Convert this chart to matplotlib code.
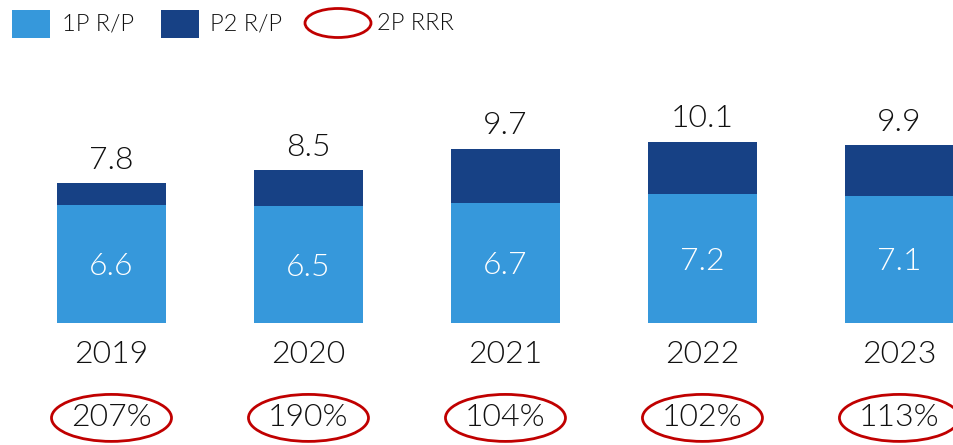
import matplotlib
matplotlib.use("Agg")
import matplotlib.pyplot as plt
from matplotlib.patches import Rectangle, Ellipse

years = ["2019", "2020", "2021", "2022", "2023"]
rp_1p = [6.6, 6.5, 6.7, 7.2, 7.1]
rp_total = [7.8, 8.5, 9.7, 10.1, 9.9]
rp_p2 = [1.2, 2.0, 3.0, 2.9, 2.8]
rrr_2p = ["207%", "190%", "104%", "102%", "113%"]

LIGHT = "#3698DB"
DARK = "#174185"
RED = "#C00000"
FONT = "Lato"
WT = 300
TXT = "#111111"

W, H = 954, 445
fig = plt.figure(figsize=(W / 100, H / 100), dpi=100)
ax = fig.add_axes([0, 0, 1, 1])
ax.set_xlim(-0.566, 4.277)
ax.set_ylim(-6.80, 18.0)
ax.axis("off")

x = list(range(len(years)))
bw = 0.553
ax.bar(x, rp_1p, width=bw, color=LIGHT, edgecolor="none")
ax.bar(x, rp_p2, width=bw, bottom=rp_1p, color=DARK, edgecolor="none")

FS = 23
for i in x:
    ax.text(i, rp_total[i] + 1.28, f"{rp_total[i]:.1f}", ha="center", va="center",
            fontsize=FS, color=TXT, family=FONT, fontweight=WT)
    ax.text(i, rp_1p[i] / 2 - 0.15, f"{rp_1p[i]:.1f}", ha="center", va="center",
            fontsize=FS, color="white", family=FONT, fontweight=WT)
    ax.text(i, -1.78, years[i], ha="center", va="center",
            fontsize=FS, color=TXT, family=FONT, fontweight=WT)
    ax.add_patch(Ellipse((i, -5.29), width=120 / 197, height=47 / 17.95,
                         facecolor="none", edgecolor=RED, lw=2, clip_on=False))
    ax.text(i, -5.29, rrr_2p[i], ha="center", va="center",
            fontsize=FS, color=TXT, family=FONT, fontweight=WT)

# legend (figure pixel coords)
def fx(px):
    return px / W

def fy(py):
    return 1 - py / H

LFS = 17
fig.patches.append(Rectangle((fx(12), fy(38)), fx(38), 28 / H, transform=fig.transFigure,
                             facecolor=LIGHT, edgecolor="none"))
fig.text(fx(62), fy(24), "1P R/P", ha="left", va="center", fontsize=LFS,
         color=TXT, family=FONT, fontweight=WT)
fig.patches.append(Rectangle((fx(161), fy(38)), fx(38), 28 / H, transform=fig.transFigure,
                             facecolor=DARK, edgecolor="none"))
fig.text(fx(210), fy(24), "P2 R/P", ha="left", va="center", fontsize=LFS,
         color=TXT, family=FONT, fontweight=WT)
fig.patches.append(Ellipse((fx(338), fy(23)), fx(66), 29 / H, transform=fig.transFigure,
                           facecolor="none", edgecolor=RED, lw=2))
fig.text(fx(377), fy(24), "2P RRR", ha="left", va="center", fontsize=LFS,
         color=TXT, family=FONT, fontweight=WT)

fig.savefig("out.png", dpi=100)
